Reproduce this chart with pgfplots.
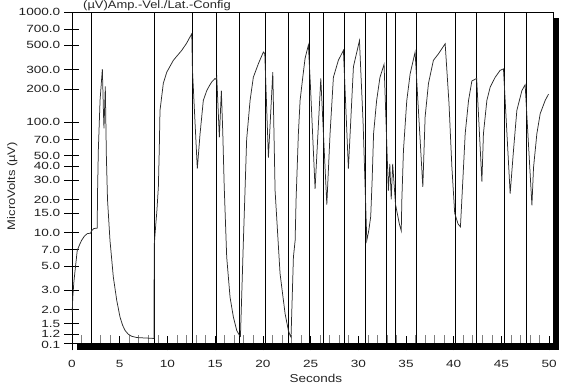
\documentclass[border=0pt]{standalone}
\usepackage{fontspec}
\setmainfont[FakeStretch=1.18]{Liberation Sans}
\newfontfamily\tickfont[FakeStretch=1.3]{Liberation Sans}
\usepackage{pgfplots}
\pgfplotsset{compat=1.18}
\definecolor{trace}{HTML}{2B2B2B}
\begin{document}
\begin{tikzpicture}
\begin{axis}[
  scale only axis, width=481bp, height=331bp,
  xmin=0, xmax=50.4, ymode=log, ymin=1, ymax=1000,
  axis line style={black, line width=0.8pt},
  xtick={0,5,...,50}, xticklabels={0,5,10,15,20,25,30,35,40,45,50},
  minor x tick num=4,
  ytick={1.2,1.5,2,3,5,7,10,15,20,30,40,50,70,100,200,300,500,700,1000},
  yticklabels={1.2,1.5,2.0,3.0,5.0,7.0,10.0,15.0,20.0,30.0,40.0,50.0,70.0,100.0,200.0,300.0,500.0,700.0,1000.0},
  extra y ticks={1}, extra y tick labels={0.1},
  extra y tick style={yticklabel style={yshift=-1.5bp}},
  yminorticks=false,
  xtick pos=bottom, ytick pos=left,
  tick align=center, major tick length=15bp, minor tick length=8bp,
  minor x tick style={yshift=4bp, line width=0.7pt},
  major tick style={line width=0.7pt, black},
  ticklabel style={font=\tickfont\fontsize{10.5}{11}\selectfont, text=black!88},
  xticklabel style={yshift=-6bp},
  yticklabel style={xshift=-4bp, inner sep=0pt},
  xlabel={Seconds},
  xlabel style={at={(axis description cs:0.507,-0.106)}, anchor=center, font=\fontsize{11.5}{13}\selectfont, text=black!85},
  ylabel={MicroVolts (µV)},
  ylabel style={at={(axis description cs:-0.124,0.474)}, anchor=center, rotate=0, font=\fontsize{11}{13}\selectfont, text=black!85},
]
\pgfplotsinvokeforeach{2.02,8.6,12.61,15.17,17.5,20.23,22.67,24.87,26.34,28.54,30.77,32.91,33.91,36.13,40.2,42.42,45.31,47.59}{
  \addplot[black, line width=0.75pt] coordinates {(#1,1) (#1,1000)};
}
\addplot[trace, line width=0.75pt] coordinates {
(0.02,1.9) (0.08,2.6) (0.2,3.6) (0.33,4.6) (0.55,6.9) (0.8,7.8) (1.0,8.5) (1.3,9.3) (1.6,9.8) (1.95,9.9) (2.05,10.4) (2.3,10.9) (2.64,11.0)
(2.68,24) (2.76,56) (2.94,158) (3.18,304) (3.3,120) (3.35,88) (3.49,212) (3.6,50) (3.72,20) (3.98,8.5) (4.33,3.96) (4.69,2.43) (5.03,1.72) (5.3,1.45) (5.56,1.3) (5.9,1.2) (6.26,1.15) (6.8,1.12) (8.58,1.1)
(8.62,7.8) (8.75,11) (8.9,16) (9.05,26) (9.15,60) (9.22,128) (9.57,226) (9.93,285) (10.62,365) (11.5,449) (12.0,520) (12.55,635)
(12.62,300) (13.13,38) (13.42,79) (13.76,158) (14.12,194) (14.4,215) (14.64,232) (14.8,240) (14.99,250) (15.1,245) (15.17,256)
(15.44,73) (15.65,194) (15.8,80) (15.95,26) (16.21,6.0) (16.56,2.6) (16.91,1.72) (17.26,1.3) (17.55,1.17) (17.65,1.15)
(17.8,3) (17.95,8) (18.1,20) (18.3,70) (18.66,158) (19.0,256) (19.53,340) (20.05,433) (20.2,420)
(20.58,48) (21.04,285) (21.28,24) (21.8,4.25) (22.33,1.84) (22.67,1.3) (22.85,1.17) (22.95,1.13)
(23.2,6.0) (23.38,8.5) (23.48,20) (23.72,79) (23.9,158) (24.18,256) (24.42,379) (24.77,502)
(25.0,200) (25.47,25) (26.07,250) (26.7,18) (27.04,79) (27.39,256) (27.91,365) (28.44,449)
(28.96,38) (29.49,320) (30.12,550) (30.5,100) (30.89,8.5) (31.1,10.5) (31.3,14) (31.45,30) (31.6,79) (31.92,158) (32.27,256) (32.7,335)
(33.15,24) (33.3,42) (33.45,20) (33.6,42) (33.9,18) (34.3,12) (34.5,10.4)
(34.56,19.6) (34.73,55.6) (35.08,158) (35.43,275) (35.95,433)
(36.76,26) (37.0,112) (37.35,225) (37.87,365) (38.4,418) (39.1,515)
(39.5,150) (39.8,40) (40.1,15) (40.45,12) (40.7,11.3)
(40.85,20) (41.2,79) (41.55,158) (41.9,237) (42.4,250)
(42.95,29) (43.11,79) (43.47,158) (43.82,209) (44.34,256) (44.86,296) (45.21,305)
(45.91,22.6) (46.26,55.6) (46.61,128) (47.14,194) (47.48,219)
(48.19,17.7) (48.36,39) (48.71,79) (49.06,120) (49.58,158) (49.93,180)
};
\end{axis}
\fill[black] ([xshift=5bp,yshift=-0.4bp]current axis.south west) rectangle ([xshift=6bp,yshift=-6.5bp]current axis.south east);
\fill[black] ([yshift=-6bp]current axis.north east) rectangle ([xshift=6bp,yshift=-6.5bp]current axis.south east);
\node[anchor=south west, inner sep=0pt, font=\fontsize{11}{13}\selectfont, text=black!85] at ([xshift=11bp,yshift=0.6bp]current axis.north west) {(µV)Amp.-Vel./Lat.-Config};
\path ([xshift=-72bp,yshift=-47bp]current axis.south west) rectangle ++(576bp,390bp);
\end{tikzpicture}
\end{document}
